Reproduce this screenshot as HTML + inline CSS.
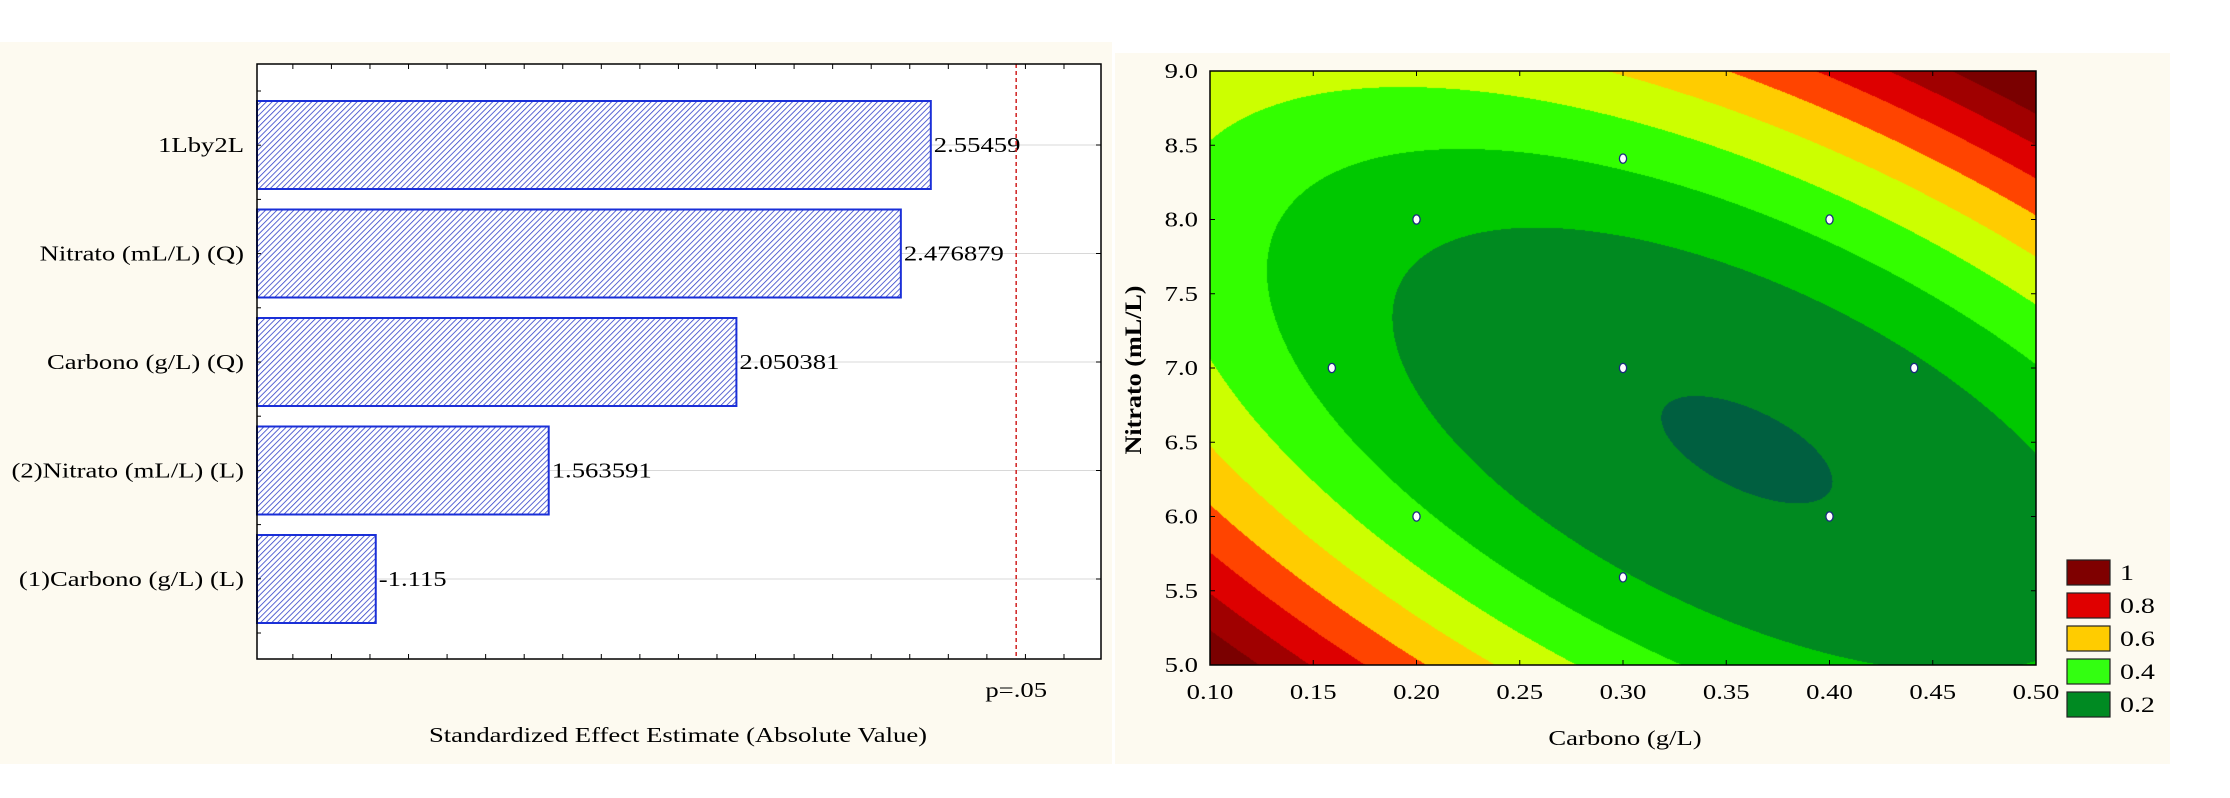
<!DOCTYPE html>
<html><head><meta charset="utf-8">
<style>
body{margin:0;width:2230px;height:798px;background:#fff;overflow:hidden;font-family:"Liberation Serif",serif;}
svg{position:absolute;left:0;top:0}
canvas{position:absolute}
text{font-family:"Liberation Serif",serif;}
</style></head>
<body>
<svg width="2230" height="798" id="fig">
  <defs>
    <pattern id="hatch" patternUnits="userSpaceOnUse" width="4" height="4" patternTransform="rotate(45)">
      <rect width="4" height="4" fill="#fff"/>
      <line x1="0" y1="0" x2="0" y2="4" stroke="#3040c8" stroke-width="1.6"/>
    </pattern>
  </defs>
  <rect x="0" y="42" width="1112" height="722" fill="#fdfaf0"/>
  <rect x="1115" y="53" width="1055" height="711" fill="#fdfaf0"/>
  <rect x="257" y="64" width="844" height="595" fill="#fff"/>
  <g id="pareto"></g>
</svg>
<canvas id="cv" width="826" height="594" style="left:1210px;top:71px"></canvas>
<svg width="2230" height="798" id="over"></svg>
<script>
// ---------- Pareto data ----------
const effectLabels = ["1Lby2L","Nitrato (mL/L) (Q)","Carbono (g/L) (Q)","(2)Nitrato (mL/L) (L)","(1)Carbono (g/L) (L)"];
const effectValues = [2.55459,2.476879,2.050381,1.563591,1.115];
const effectTexts = ["2.55459","2.476879","2.050381","1.563591","-1.115"];
const pCritical = 2.776;

// ---------- Contour data ----------
const xTicks = [0.10,0.15,0.20,0.25,0.30,0.35,0.40,0.45,0.50];
const yTicks = [5.0,5.5,6.0,6.5,7.0,7.5,8.0,8.5,9.0];
const designX = [0.3,0.2,0.4,0.159,0.3,0.441,0.2,0.4,0.3];
const designY = [8.41,8.0,8.0,7.0,7.0,7.0,6.0,6.0,5.59];
const surfaceCenter = [0.36,6.45];
const surfaceCoef = [0.08,0.063,0.083,0.086]; // z0, u^2, v^2, uv
const levelThresholds = [0.087,0.2,0.3,0.4,0.5,0.6,0.7,0.8,0.9];
const levelColors = ["#005f40","#008a20","#00c800","#33ff00","#ccff00","#ffcc00","#ff4400","#dd0000","#a00000","#7a0000"];
const legendLabels = ["1","0.8","0.6","0.4","0.2"];
const legendColors = ["#7f0000","#e00000","#ffcc00","#33ff11","#008a22"];

const NS="http://www.w3.org/2000/svg";
const SX=1.27;
function mk(parent,tag,attrs,text){const e=document.createElementNS(NS,tag);for(const k in attrs)e.setAttribute(k,attrs[k]);if(text!==undefined)e.textContent=text;parent.appendChild(e);return e;}
function txt(parent,x,y,str,anchor,size){return mk(parent,'text',{x:0,y:0,'font-size':size||21,'text-anchor':anchor||'start',fill:'#000',transform:'translate('+x+','+y+') scale('+SX+',1)'},str);}

// Pareto axes
const P={x0:257,x1:1101,y0:64,y1:659,dmin:0.807,dmax:2.996};
const px=v=>P.x0+(v-P.dmin)/(P.dmax-P.dmin)*(P.x1-P.x0);
const g=document.getElementById('pareto');
for(let i=0;i<effectValues.length;i++){
  const cy=145+i*108.5;
  const gl=mk(g,'line',{x1:P.x0,x2:P.x1,y1:cy,y2:cy,stroke:'#d8d8d8','stroke-width':1});
  
  const b=mk(g,'rect',{x:P.x0,y:cy-44,width:px(effectValues[i])-P.x0,height:88,fill:'url(#hatch)',stroke:'#1a2fd8','stroke-width':2});
  
  const vt=txt(g,px(effectValues[i])+3,cy+7,effectTexts[i],'start');
  
  const lt=txt(g,244,cy+7,effectLabels[i],'end');
  
  const tk=mk(g,'line',{x1:P.x1-5,x2:P.x1,y1:cy,y2:cy,stroke:'#000'});
  
}
for(let k=0;k<11;k++){const y=91+k*54.2;const t=mk(g,'line',{x1:P.x0,x2:P.x0+4,y1:y,y2:y,stroke:'#000'});}
for(let v=0.9;v<2.99;v+=0.1){const x=px(v);
  const t1=mk(g,'line',{x1:x,x2:x,y1:P.y1,y2:P.y1-5,stroke:'#000'});
  const t2=mk(g,'line',{x1:x,x2:x,y1:P.y0,y2:P.y0+5,stroke:'#000'});}
const pl=mk(g,'line',{x1:px(pCritical),x2:px(pCritical),y1:P.y0,y2:P.y1,stroke:'#d02020','stroke-width':1.5,'stroke-dasharray':'4,3'});

const frame=mk(g,'rect',{x:P.x0,y:P.y0,width:P.x1-P.x0,height:P.y1-P.y0,fill:'none',stroke:'#000','stroke-width':1.5});

const pt=txt(g,px(pCritical),697,'p=.05','middle');

const xt=txt(g,678,742,'Standardized Effect Estimate (Absolute Value)','middle');


// Contour
const C={x0:1210,x1:2036,y0:71,y1:665,xmin:0.1,xmax:0.5,ymin:5,ymax:9};
const cx=v=>C.x0+(v-C.xmin)/(C.xmax-C.xmin)*(C.x1-C.x0);
const cy=v=>C.y1-(v-C.ymin)/(C.ymax-C.ymin)*(C.y1-C.y0);
function surf(c,n){const u=(c-surfaceCenter[0])/0.1,v=n-surfaceCenter[1];
  return surfaceCoef[0]+surfaceCoef[1]*u*u+surfaceCoef[2]*v*v+surfaceCoef[3]*u*v;}
const cv=document.getElementById('cv');const ctx=cv.getContext('2d');
const W=cv.width,H=cv.height;const img=ctx.createImageData(W,H);
const rgb=levelColors.map(h=>[parseInt(h.slice(1,3),16),parseInt(h.slice(3,5),16),parseInt(h.slice(5,7),16)]);
for(let j=0;j<H;j++)for(let i=0;i<W;i++){
  const c=C.xmin+(i+0.5)/W*(C.xmax-C.xmin), n=C.ymax-(j+0.5)/H*(C.ymax-C.ymin);
  const z=surf(c,n);let k=0;while(k<levelThresholds.length&&z>=levelThresholds[k])k++;
  const o=(j*W+i)*4;img.data[o]=rgb[k][0];img.data[o+1]=rgb[k][1];img.data[o+2]=rgb[k][2];img.data[o+3]=255;}
ctx.putImageData(img,0,0);

const o=document.getElementById('over');
for(let i=0;i<designX.length;i++){
  const m=mk(o,'ellipse',{cx:cx(designX[i]),cy:cy(designY[i]),rx:3.6,ry:4.6,fill:'#fff',stroke:'#1a2a80','stroke-width':1.3});
  
}
const cf=mk(o,'rect',{x:C.x0,y:C.y0,width:C.x1-C.x0,height:C.y1-C.y0,fill:'none',stroke:'#000','stroke-width':1.5});

xTicks.forEach(v=>{const x=cx(v);
  const t=mk(o,'line',{x1:x,x2:x,y1:C.y1,y2:C.y1-5,stroke:'#000'});
  const t2=mk(o,'line',{x1:x,x2:x,y1:C.y0,y2:C.y0+5,stroke:'#000'});
  const l=txt(o,x,699,v.toFixed(2),'middle');});
yTicks.forEach(v=>{const y=cy(v);
  const t=mk(o,'line',{x1:C.x0,x2:C.x0+5,y1:y,y2:y,stroke:'#000'});
  const t2=mk(o,'line',{x1:C.x1-5,x2:C.x1,y1:y,y2:y,stroke:'#000'});
  const l=txt(o,1198,y+7,v.toFixed(1),'end');});
const cxt=txt(o,1625,745,'Carbono (g/L)','middle');

const cyt=mk(o,'text',{x:0,y:0,'font-size':20,'font-weight':'bold','text-anchor':'middle',textLength:169,lengthAdjust:'spacingAndGlyphs',transform:'translate(1141,370) scale(1.18,1) rotate(-90)'},'Nitrato (mL/L)');

legendLabels.forEach((lab,i)=>{const y=560+i*33;
  const r=mk(o,'rect',{x:2067,y:y,width:43,height:25,fill:legendColors[i],stroke:'#222','stroke-width':1.2});
  
  const t=txt(o,2120,y+20,lab,'start',22);});
</script>
</body></html>
